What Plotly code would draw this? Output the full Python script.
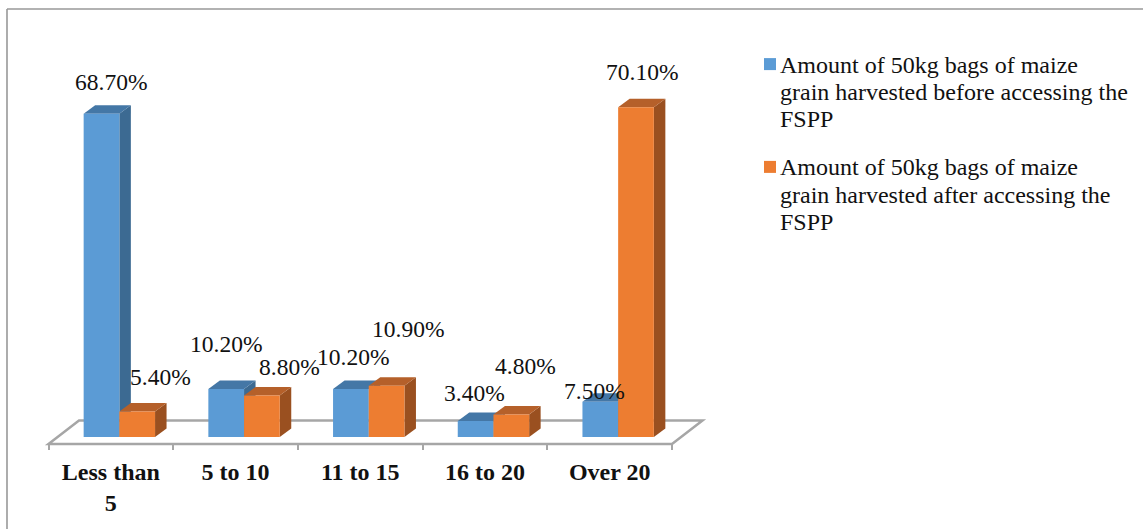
import plotly.graph_objects as go

# Chart data
categories = ["Less than<br>5", "5 to 10", "11 to 15", "16 to 20", "Over 20"]
before_values = [68.7, 10.2, 10.2, 3.4, 7.5]
after_values = [5.4, 8.8, 10.9, 4.8, 70.1]
before_lines = ["Amount of 50kg bags of maize", "grain harvested before accessing the", "FSPP"]
after_lines = ["Amount of 50kg bags of maize", "grain harvested after accessing the", "FSPP"]

# Colours of the bar faces
BLUE, BLUE_TOP, BLUE_SIDE = "#5B9BD5", "#4477A6", "#3C6A92"
ORANGE, ORANGE_TOP, ORANGE_SIDE = "#ED7D31", "#B5602A", "#9A5020"
GREY = "#A6A6A6"
FRAME = "#989898"
TEXT = "#111111"
FONT = "Liberation Serif"
LABEL_SIZE = 23.5
AXIS_SIZE = 24

WIDTH, HEIGHT = 1143, 529
PX_PER_CAT = 124.7
PX_PER_PCT = 4.705
CAT0_PX = 110.85
BASE_PX = 437
FLOOR_FRONT_PX = 444
PLOT_BOTTOM_PX = 450

BAR_W = 35.7 / PX_PER_CAT
GROUP_SHIFT = 8.5 / PX_PER_CAT
DEPTH_X = 11.5 / PX_PER_CAT
DEPTH_Y = 8.5 / PX_PER_PCT
FLOOR_DX = 30.5 / PX_PER_CAT
FLOOR_DY = 23.5 / PX_PER_PCT
FLOOR_FRONT = (BASE_PX - FLOOR_FRONT_PX) / PX_PER_PCT

# Label offsets from each bar's top centre, in pixels
before_label_dx = [9.5, -0.5, 2.5, -1.5, -5.5]
before_label_dy = [32, 45, 32, 28, 11]
after_label_dx = [23, 27.5, 21, 14.5, 5.5]
after_label_dy = [34.6, 28.4, 56.7, 48, 35]

positions = [i + GROUP_SHIFT for i in range(len(categories))]


def poly(points):
    return "M" + " L".join(f"{x},{y}" for x, y in points) + " Z"


def paper_x(px):
    return px / WIDTH


def paper_y(px):
    return (PLOT_BOTTOM_PX - px) / PLOT_BOTTOM_PX


def box_faces(left, value, top_colour, side_colour):
    """Top and right faces of a bar drawn in oblique projection."""
    right = left + BAR_W
    top = [(left, value), (right, value), (right + DEPTH_X, value + DEPTH_Y), (left + DEPTH_X, value + DEPTH_Y)]
    side = [(right, 0), (right + DEPTH_X, DEPTH_Y), (right + DEPTH_X, value + DEPTH_Y), (right, value)]
    return [
        dict(type="path", path=poly(side), xref="x", yref="y", layer="below",
             fillcolor=side_colour, line=dict(width=0)),
        dict(type="path", path=poly(top), xref="x", yref="y", layer="below",
             fillcolor=top_colour, line=dict(width=0)),
    ]


fig = go.Figure()
fig.add_trace(go.Bar(x=positions, y=before_values, width=BAR_W, offset=-BAR_W,
                     marker=dict(color=BLUE, line=dict(width=0)), name=" ".join(before_lines),
                     hoverinfo="y", showlegend=False))
fig.add_trace(go.Bar(x=positions, y=after_values, width=BAR_W, offset=0,
                     marker=dict(color=ORANGE, line=dict(width=0)), name=" ".join(after_lines),
                     hoverinfo="y", showlegend=False))

# Floor of the oblique plot area
n = len(categories)
floor_lo, floor_hi = -0.5, n - 0.5
floor = [(floor_lo, FLOOR_FRONT), (floor_hi, FLOOR_FRONT),
         (floor_hi + FLOOR_DX, FLOOR_FRONT + FLOOR_DY), (floor_lo + FLOOR_DX, FLOOR_FRONT + FLOOR_DY)]
shapes = [dict(type="path", path=poly(floor), xref="x", yref="y", layer="below",
               fillcolor="white", line=dict(color=GREY, width=2.5))]

# Depth faces, blue first so the neighbouring orange bar covers them
for x, v in zip(positions, before_values):
    shapes += box_faces(x - BAR_W, v, BLUE_TOP, BLUE_SIDE)
for x, v in zip(positions, after_values):
    shapes += box_faces(x, v, ORANGE_TOP, ORANGE_SIDE)

# Outer frame (left and top edges)
for x0, y0, x1, y1 in [(7, 9, 7, HEIGHT), (7, 9, WIDTH, 9)]:
    shapes.append(dict(type="line", xref="paper", yref="paper",
                       x0=paper_x(x0), x1=paper_x(x1), y0=paper_y(y0), y1=paper_y(y1),
                       line=dict(color=FRAME, width=1.6)))

annotations = []
for vals, offset, dxs, dys in [(before_values, -BAR_W / 2, before_label_dx, before_label_dy),
                               (after_values, BAR_W / 2, after_label_dx, after_label_dy)]:
    for x, v, dx, dy in zip(positions, vals, dxs, dys):
        annotations.append(dict(x=x + offset, y=v, xref="x", yref="y", text=f"{v:.2f}%",
                                showarrow=False, xanchor="center", yanchor="middle",
                                xshift=dx, yshift=dy,
                                font=dict(family=FONT, size=LABEL_SIZE, color=TEXT)))

# Legend: a colour square followed by three tightly spaced text lines per series
for lines, colour, first_line_px in [(before_lines, BLUE, 64.6), (after_lines, ORANGE, 167.4)]:
    shapes.append(dict(type="rect", xref="paper", yref="paper",
                       x0=paper_x(764), x1=paper_x(776),
                       y0=paper_y(first_line_px - 6.5), y1=paper_y(first_line_px + 5.5),
                       fillcolor=colour, line=dict(width=0)))
    for k, text in enumerate(lines):
        annotations.append(dict(x=paper_x(781), y=paper_y(first_line_px + 27.3 * k),
                                xref="paper", yref="paper", text=text, showarrow=False,
                                xanchor="left", yanchor="middle", xshift=-3,
                                font=dict(family=FONT, size=AXIS_SIZE, color=TEXT)))

fig.update_layout(
    width=WIDTH, height=HEIGHT,
    margin=dict(l=0, r=0, t=0, b=HEIGHT - PLOT_BOTTOM_PX, pad=0),
    paper_bgcolor="white", plot_bgcolor="white",
    barmode="overlay",
    shapes=shapes, annotations=annotations,
    showlegend=False,
    xaxis=dict(range=[-CAT0_PX / PX_PER_CAT, (WIDTH - CAT0_PX) / PX_PER_CAT],
               tickmode="array", tickvals=list(range(n)), ticktext=categories,
               ticks="", ticklabelstandoff=5, showgrid=False, showline=False, zeroline=False,
               tickfont=dict(family=FONT, size=AXIS_SIZE, color=TEXT, weight="bold"),
               tickangle=0,
               minor=dict(tickmode="array", tickvals=[floor_lo + i for i in range(n + 1)],
                          ticks="inside", ticklen=6, tickwidth=1.5, tickcolor=GREY, showgrid=False)),
    yaxis=dict(range=[(BASE_PX - PLOT_BOTTOM_PX) / PX_PER_PCT, BASE_PX / PX_PER_PCT],
               visible=False, showgrid=False, zeroline=False),
)

fig.write_html("out.html")
